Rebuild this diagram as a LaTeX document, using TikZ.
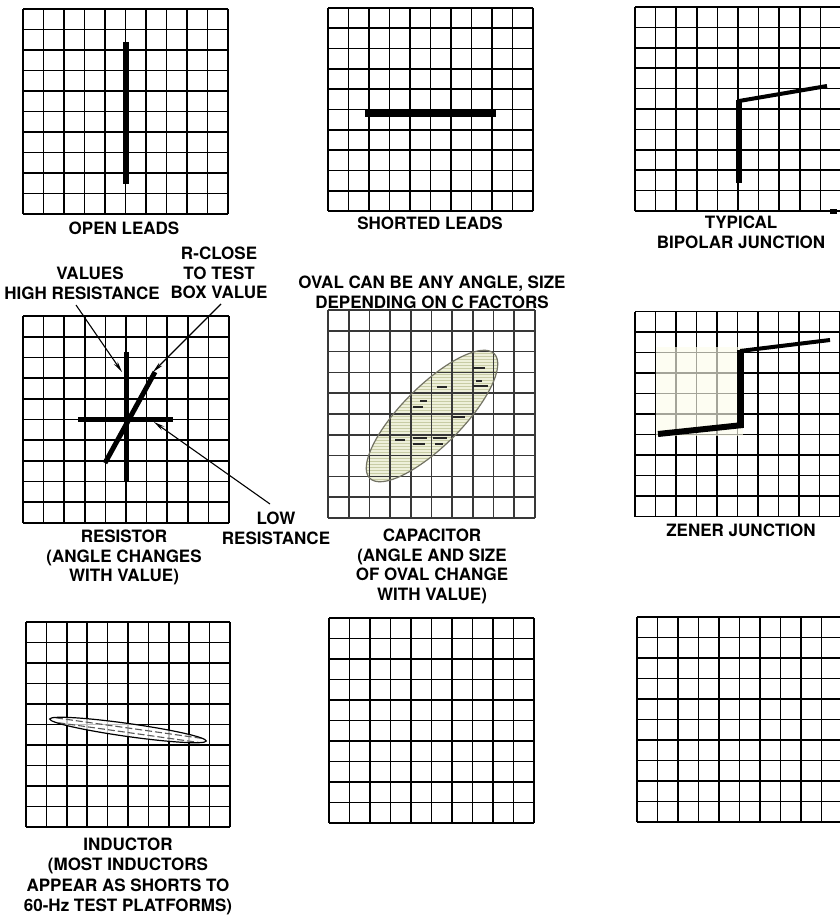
\documentclass[tikz,border=0pt]{standalone}
\usepackage{fontspec}
\usetikzlibrary{arrows.meta}
\newfontfamily\labfont{TeX Gyre Heros}
\newcommand\lab{\labfont\bfseries\fontsize{17}{19.5}\selectfont}
\newcommand\st{\rule{0pt}{14pt}}
\newcommand\drawgrid[5]{%
  \foreach \i in {0,...,10}{%
    \draw[#5] ({#1+\i*#3/10},#2) -- ({#1+\i*#3/10},{#2+#4});
    \draw[#5] (#1,{#2+\i*#4/10}) -- ({#1+#3},{#2+\i*#4/10});
  }}
\definecolor{ovalfill}{RGB}{238,240,218}
\definecolor{hatchc}{RGB}{200,204,165}
\definecolor{ovalline}{RGB}{115,115,100}
\tikzset{
  gridln/.style={line width=1.7pt, black},
  capgrid/.style={line width=1.7pt, black!78},
  trace/.style={line width=6pt, black},
  lbl/.style={font=\lab, align=center, inner sep=0pt, anchor=north},
  arr/.style={line width=1.1pt, black, -{Stealth[length=11pt,width=4.5pt]}},
  cdash/.style={line width=1.4pt, black!85},
}
\begin{document}
\begin{tikzpicture}[x=1pt,y=-1pt]
\fill[white] (0,0) rectangle (840,915);
\useasboundingbox (0,0) rectangle (840,915);

% ---------- Row 1 ----------
\drawgrid{23}{9}{205}{205}{gridln}
\draw[trace] (126,42) -- (126,184);
\node[lbl] (open) at (124,220.3) {\st OPEN LEADS};

\drawgrid{328}{8}{205}{203}{gridln}
\draw[trace, line width=8pt] (365,113) -- (496,113);
\node[lbl] (short) at (430,215.3) {\st SHORTED LEADS};

\drawgrid{635}{7}{206}{204}{gridln}
\draw[trace] (739,183) -- (739,100);
\draw[trace, line width=4pt] (739,101) -- (827,86);
\fill[black] (830,209) rectangle (837,213.5);
\node[lbl] (bip) at (741,214.3) {\st TYPICAL\\BIPOLAR JUNCTION};

% ---------- Row 2 ----------
% resistor
\drawgrid{23}{316}{206}{207}{gridln}
\draw[trace, line width=5pt] (126,352) -- (126,481);
\draw[trace, line width=5pt] (78,419) -- (173,419);
\draw[trace, line width=5pt] (105,463) -- (155,372);
\node[lbl] (hires) at (82,265.3) {\st\hspace*{16pt}VALUES\\HIGH RESISTANCE};
\node[lbl] (rclose) at (219,245.3) {\st R-CLOSE\\TO TEST\\BOX VALUE};
\node[lbl] (lowres) at (276,510.3) {\st LOW\\RESISTANCE};
\node[lbl] (resist) at (124,528.3) {\st RESISTOR\\(ANGLE CHANGES\\WITH VALUE)};
\coordinate (a1s) at (76,305);
\coordinate (a1t) at (122,372);
\coordinate (a2s) at (221,304);
\coordinate (a2t) at (153,372);
\coordinate (a3s) at (270,504);
\coordinate (a3t) at (154,422);
\draw[arr] (a1s) -- (a1t);
\draw[arr] (a2s) -- (a2t);
\draw[arr] (a3s) -- (a3t);

% capacitor
\begin{scope}
  \clip[rotate around={45:(432,416)}] (432,416) ellipse [x radius=88, y radius=30];
  \fill[ovalfill] (330,320) rectangle (540,510);
  \foreach \yy in {320,323,...,510}{\draw[hatchc, line width=0.8pt] (330,\yy) -- (540,\yy);}
\end{scope}
\drawgrid{328}{310}{207}{208}{capgrid}
\draw[ovalline, line width=1.2pt, rotate around={45:(432,416)}] (432,416) ellipse [x radius=88, y radius=30];
\foreach \xa/\xb/\yy in {473/485/368, 476/482/381, 473/488/386, 437/447/387, 420/427/401, 413/423/407, 453/465/417, 395/405/440, 413/427/438, 413/425/444, 433/447/438, 435/443/444}{
  \draw[cdash] (\xa,\yy) -- (\xb,\yy);}
\node[lbl] (oval) at (432,274.3) {\st OVAL CAN BE ANY ANGLE, SIZE\\DEPENDING ON C FACTORS};
\node[lbl] (cap) at (432,527.3) {\st CAPACITOR\\(ANGLE AND SIZE\\OF OVAL CHANGE\\WITH VALUE)};

% zener
\drawgrid{635}{311.5}{205}{205}{gridln}
\fill[fill={rgb,255:red,252;green,252;blue,236}, opacity=0.65] (656,347) rectangle (743,436);
\draw[trace] (658,434) -- (743,425);
\draw[trace, line width=7pt] (740,428) -- (740,350);
\draw[trace, line width=4pt] (740,351) -- (830,340);
\node[lbl] (zener) at (741,522.3) {\st ZENER JUNCTION};

% ---------- Row 3 ----------
\drawgrid{26}{622}{204}{205}{gridln}
\fill[white, opacity=0.75, rotate around={-8:(128,730)}] (128,730) ellipse [x radius=79, y radius=6.5];
\begin{scope}
  \clip[rotate around={-8:(128,730)}] (128,730) ellipse [x radius=78, y radius=5.5];
  \draw[black!65, line width=1.1pt, dash pattern=on 7pt off 3pt, rotate around={-8:(128,730)}] (45,728) -- (210,728);
  \draw[black!65, line width=1.1pt, dash pattern=on 7pt off 3pt, rotate around={-8:(128,730)}] (48,732.5) -- (210,732.5);
\end{scope}
\draw[black, line width=1.2pt, rotate around={-8:(128,730)}] (128,730) ellipse [x radius=79, y radius=6.5];
\node[lbl, font={\labfont\bfseries\fontsize{17}{20.3}\selectfont}] (ind) at (128,836.3) {\st INDUCTOR\\(MOST INDUCTORS\\APPEAR AS SHORTS TO\\60-Hz TEST PLATFORMS)};

\drawgrid{329}{618}{205}{205}{gridln}
\drawgrid{637}{617}{205}{205}{gridln}
\end{tikzpicture}
\end{document}
